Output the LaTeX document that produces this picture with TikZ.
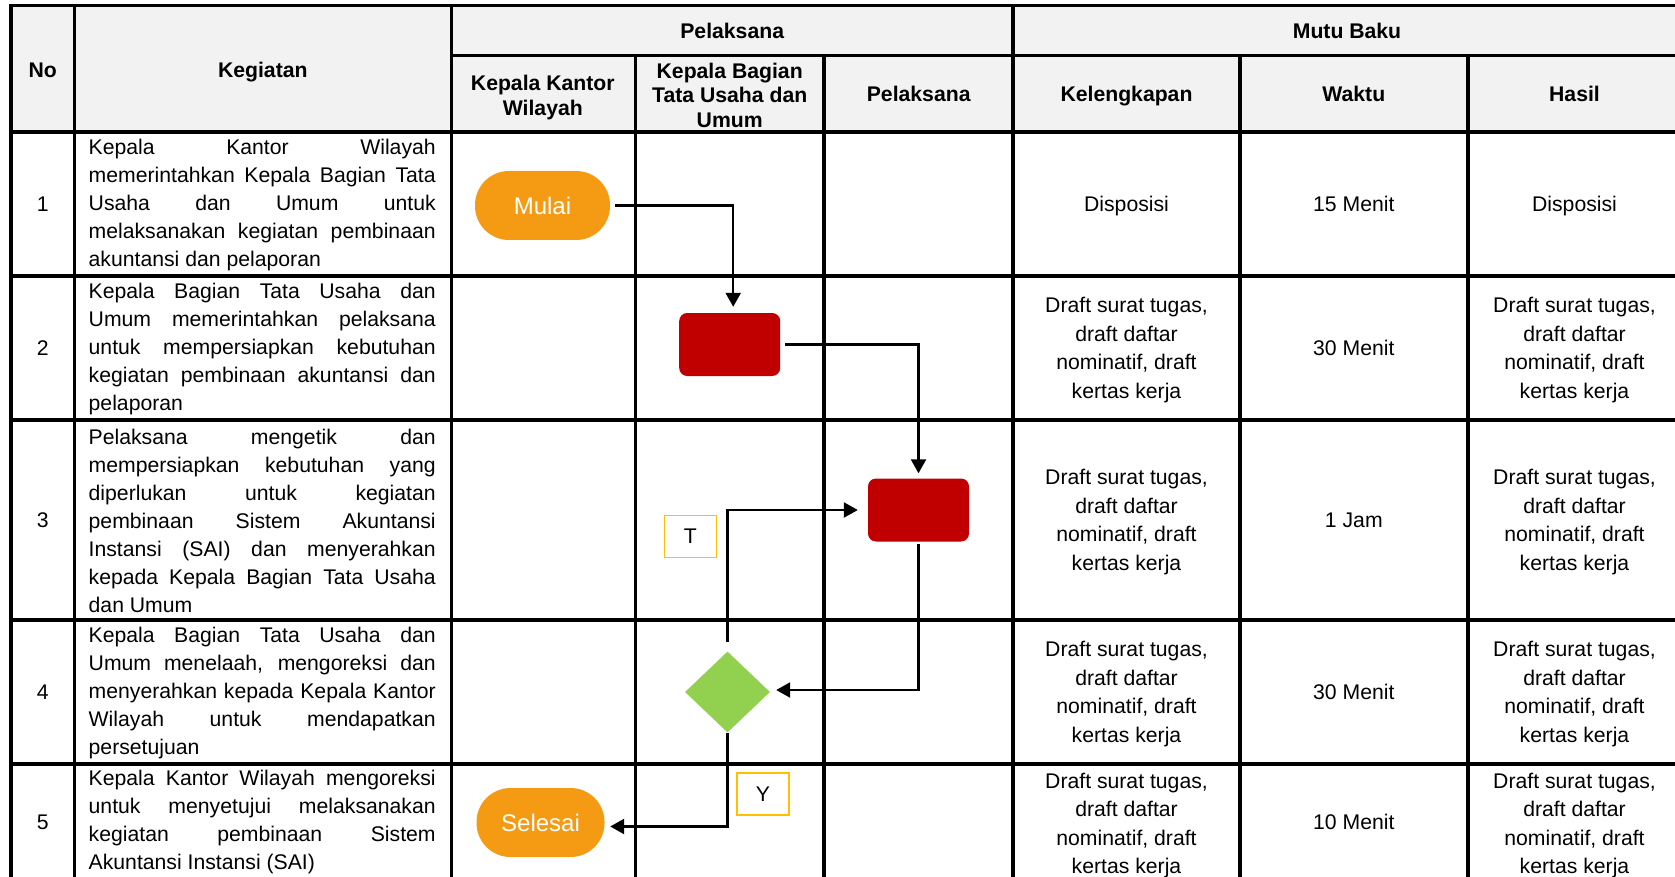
\documentclass[tikz,border=0pt]{standalone}
\usepackage{fontspec}
\setmainfont{Liberation Sans}
\usetikzlibrary{shapes.geometric,arrows.meta}
\tolerance=10000 \hyphenpenalty=10000 \exhyphenpenalty=10000
\definecolor{hdr}{HTML}{F2F2F2}
\definecolor{orng}{HTML}{F59A13}
\definecolor{dred}{HTML}{C00000}
\definecolor{lgreen}{HTML}{92D050}
\definecolor{ylw}{HTML}{FFC000}
\begin{document}
\begin{tikzpicture}[x=1pt,y=-1pt,
 grid/.style={line width=3.2pt, line cap=rect},
 one/.style={text height=15.2pt, text depth=0pt},
 body/.style={font={\fontsize{21.2}{28}\selectfont}, inner sep=0pt},
 kg/.style={body, text width=347pt, align=justify},
 mb/.style={inner sep=0pt, align=center, font={\fontsize{21.2}{28.5}\selectfont}},
 hd/.style={font={\bfseries\fontsize{21.2}{24.5}\selectfont}, align=center, inner sep=0pt},
 term/.style={fill=orng, text=white, font={\fontsize{24}{28}\selectfont}, rounded corners=34pt, minimum height=69pt, inner sep=0pt},
 proc/.style={fill=dred, rounded corners=8pt, minimum width=101pt, minimum height=63pt, inner sep=0pt},
 dec/.style={diamond, fill=lgreen, minimum width=85pt, minimum height=81pt, inner sep=0pt},
 lbl/.style={draw=ylw, line width=1.5pt, fill=white, minimum width=52pt, minimum height=42pt, inner sep=0pt, font={\fontsize{21.2}{24}\selectfont}},
 flow/.style={line width=2.3pt, -{Triangle[length=14pt,width=15pt]}}
]
\path[use as bounding box] (0,0) rectangle (1675,877);
\clip (0,0) rectangle (1675,877);
% header background
\fill[hdr] (11,5.5) rectangle (1680,132);
% grid
\draw[grid] (11,5.5) -- (1685,5.5);
\draw[grid] (451.5,55.5) -- (1685,55.5);
\foreach \yy in {132,276,420,620,764} \draw[grid] (11,\yy) -- (1685,\yy);
\foreach \xx in {11,74.5,451.5,1013} \draw[grid] (\xx,5.5) -- (\xx,890);
\foreach \xx in {635.3,824,1240,1468} \draw[grid] (\xx,55.5) -- (\xx,890);
% headers
\node[hd, one] (hNo) at (42.7,69.6) {No};
\node[hd, one] (hKeg) at (262.8,69.6) {Kegiatan};
\node[hd, one] (hPel) at (732.2,31) {Pelaksana};
\node[hd, one] (hMutu) at (1347,31) {Mutu Baku};
\node[hd, font={\bfseries\fontsize{21.2}{25.6}\selectfont}] (hKKW) at (542.8,97.5) {Kepala Kantor\\Wilayah};
\node[hd] (hKBTU) at (729.7,95) {Kepala Bagian\\Tata Usaha dan\\Umum};
\node[hd, one] (hPel2) at (918.7,94) {Pelaksana};
\node[hd, one] (hKel) at (1126.5,94) {Kelengkapan};
\node[hd, one] (hWaktu) at (1353.8,94) {Waktu};
\node[hd, one] (hHasil) at (1574.5,94) {Hasil};
% numbers
\node[body, one] (n1) at (42.7,203.5) {1};
\node[body, one] (n2) at (42.7,348) {2};
\node[body, one] (n3) at (42.7,520) {3};
\node[body, one] (n4) at (42.7,692) {4};
\node[body, one] (n5) at (42.7,821.5) {5};
% kegiatan
\node[kg] (k1) at (262.2,205.5) {Kepala Kantor Wilayah\linebreak memerintahkan Kepala Bagian Tata\linebreak Usaha dan Umum untuk\linebreak melaksanakan kegiatan pembinaan\linebreak akuntansi dan pelaporan};
\node[kg] (k2) at (262.2,349.5) {Kepala Bagian Tata Usaha dan\linebreak Umum memerintahkan pelaksana\linebreak untuk mempersiapkan kebutuhan\linebreak kegiatan pembinaan akuntansi dan\linebreak pelaporan};
\node[kg] (k3) at (262.2,520.5) {Pelaksana mengetik dan\linebreak mempersiapkan kebutuhan yang\linebreak diperlukan untuk kegiatan\linebreak pembinaan Sistem Akuntansi\linebreak Instansi (SAI) dan menyerahkan\linebreak kepada Kepala Bagian Tata Usaha\linebreak dan Umum};
\node[kg] (k4) at (262.2,693) {Kepala Bagian Tata Usaha dan\linebreak Umum menelaah, mengoreksi dan\linebreak menyerahkan kepada Kepala Kantor\linebreak Wilayah untuk mendapatkan\linebreak persetujuan};
\node[kg] (k5) at (262.2,822.5) {Kepala Kantor Wilayah mengoreksi\linebreak untuk menyetujui melaksanakan\linebreak kegiatan pembinaan Sistem\linebreak Akuntansi Instansi (SAI)};
% mutu baku
\node[mb, one] (kel1) at (1126.5,203.5) {Disposisi};
\node[mb, one] (w1) at (1353.8,203.5) {15 Menit};
\node[mb, one] (h1) at (1574.5,203.5) {Disposisi};
\node[mb] (kel2) at (1126.5,350) {Draft surat tugas,\\draft daftar\\nominatif, draft\\kertas kerja};
\node[mb, one] (w2) at (1353.8,348) {30 Menit};
\node[mb] (h2) at (1574.5,350) {Draft surat tugas,\\draft daftar\\nominatif, draft\\kertas kerja};
\node[mb] (kel3) at (1126.5,522) {Draft surat tugas,\\draft daftar\\nominatif, draft\\kertas kerja};
\node[mb, one] (w3) at (1353.8,520) {1 Jam};
\node[mb] (h3) at (1574.5,522) {Draft surat tugas,\\draft daftar\\nominatif, draft\\kertas kerja};
\node[mb] (kel4) at (1126.5,694) {Draft surat tugas,\\draft daftar\\nominatif, draft\\kertas kerja};
\node[mb, one] (w4) at (1353.8,692) {30 Menit};
\node[mb] (h4) at (1574.5,694) {Draft surat tugas,\\draft daftar\\nominatif, draft\\kertas kerja};
\node[mb] (kel5) at (1126.5,825.5) {Draft surat tugas,\\draft daftar\\nominatif, draft\\kertas kerja};
\node[mb, one] (w5) at (1353.8,821.5) {10 Menit};
\node[mb] (h5) at (1574.5,825.5) {Draft surat tugas,\\draft daftar\\nominatif, draft\\kertas kerja};
% flow shapes
\node[term, minimum width=135pt] (mulai) at (542.5,205.5) {Mulai};
\node[proc] (red1) at (729.7,344.5) {};
\node[proc] (red2) at (918.5,510) {};
\node[dec] (dec) at (727.5,692) {};
\node[term, minimum width=128pt] (sel) at (540.5,822.5) {Selesai};
% connectors
\draw[flow, shorten <=5pt, shorten >=6pt] (mulai.east) -| ([xshift=3.5pt]red1.north);
\draw[flow, shorten <=5pt, shorten >=5pt] (red1.east) -| (red2.north);
\draw[flow, shorten <=2.5pt, shorten >=6pt] (red2.south) |- ([yshift=2pt]dec.east);
\draw[flow, shorten <=9pt, shorten >=10pt] (dec.north) |- (red2.west);
\draw[flow, shorten >=5.5pt] (dec.south) |- ([yshift=-4pt]sel.east);
% labels
\node[lbl] (lT) at (690.3,536.4) {T};
\node[lbl] (lY) at (763,794) {Y};
\end{tikzpicture}
\end{document}
